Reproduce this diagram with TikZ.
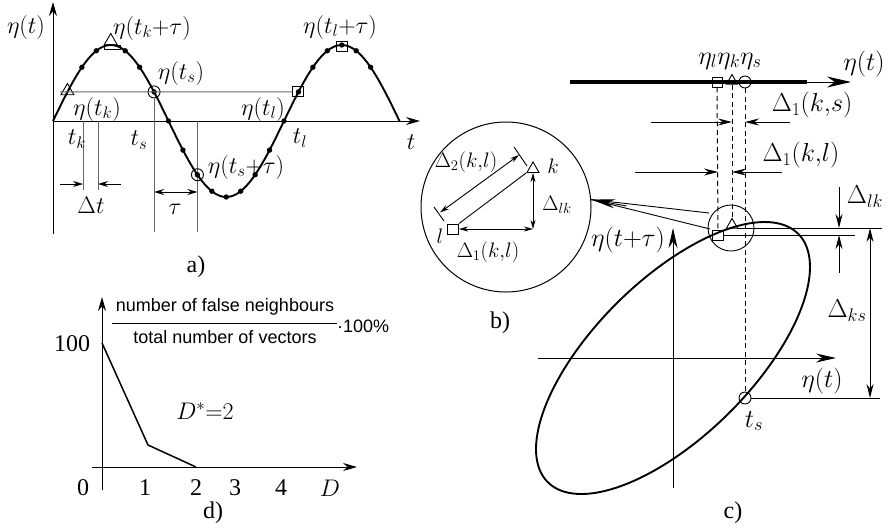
\RequirePackage{fix-cm}
\documentclass[tikz,border=0pt]{standalone}
\usepackage{fontspec}
\setmainfont{Liberation Serif}
\newfontfamily\arialf{Liberation Sans}
\usetikzlibrary{arrows.meta,calc,shapes.geometric}
\begin{document}
\begin{tikzpicture}[x=1pt,y=-1pt,
  la/.style={font=\fontsize{24}{26}\selectfont, inner sep=0pt},
  lb/.style={font=\fontsize{21}{23}\selectfont, inner sep=0pt},
  lc/.style={font=\fontsize{26}{28}\selectfont, inner sep=0pt},
  ld/.style={font=\fontsize{24}{26}\selectfont, inner sep=0pt},
  ls/.style={font=\arialf\fontsize{18}{20}\selectfont, inner sep=0pt},
  ln/.style={line width=0.9pt},
  gln/.style={line width=0.9pt, draw=black!60},
  crv/.style={line width=1.9pt},
  axa/.style={line width=1pt, -{Stealth[length=14pt,width=8pt]}},
  axc/.style={line width=1pt, -{Stealth[length=20pt,width=9pt]}},
  dima/.style={line width=0.9pt, -{Stealth[length=10pt,width=6pt]}},
  dimb/.style={line width=0.9pt, {Stealth[length=9pt,width=5pt]}-{Stealth[length=9pt,width=5pt]}},
  dimc/.style={line width=1pt, -{Stealth[length=14pt,width=7pt]}},
  dsh/.style={line width=1pt, dash pattern=on 5pt off 3.5pt},
  sqm/.style={draw, rectangle, minimum width=11pt, minimum height=10pt, inner sep=0pt, line width=0.9pt},
  trm/.style={draw, regular polygon, regular polygon sides=3, minimum size=15pt, inner sep=0pt, line width=0.9pt},
  cim/.style={draw, circle, minimum size=12pt, inner sep=0pt, line width=0.9pt},
]
\useasboundingbox (0,0) rectangle (891,528);

% ================= panel a =================
\coordinate (aO) at (53,121);
\coordinate (aYb) at (53,234);
\coordinate (aYt) at (53,2);
\coordinate (aXt) at (420,121);
\draw[axa] (aYb) -- (aYt);
\draw[axa] (aO) -- (aXt);

% gray guide lines
\coordinate (hl0) at (60,91.9);
\coordinate (dt1t) at (83,121);
\coordinate (dt1b) at (83,190);
\coordinate (dt2t) at (98,121);
\coordinate (dt2b) at (98,190);
\coordinate (tsb) at (154.06,232);
\coordinate (tstb) at (197.44,232);
\coordinate (tstt) at (197.44,121);
\draw[gln] (dt1t) -- (dt1b);
\draw[gln] (dt2t) -- (dt2b);
\draw[gln] (tstt) -- (tstb);

% sine curve
\draw[crv] plot[domain=53:399.5, samples=120] (\x, {121-76*sin((\x-53)/115.5*180)});
\foreach \n in {2,3,5,6,7,8,9,10,11,12,13,14,15,16,17,18,19,20,21,22}
  \fill ({53+\n*14.4375},{121-76*sin(\n*22.5)}) circle (2.7pt);

% markers
\node[trm] (ak) at (67.44,91.0) {};
\node[trm] (akt) at (110.75,41) {};
\node[draw, rectangle, minimum width=16pt, minimum height=4pt, inner sep=0pt, line width=0.9pt] (aktr) at (112,47.5) {};
\node[cim] (as) at (154.06,91.92) {};
\node[cim] (ast) at (197.44,174.74) {};
\node[sqm] (al) at (298.44,91.92) {};
\node[sqm] (alt) at (341.75,46) {};
\draw[gln] (hl0) -- (al.west);
\draw[gln] (as.south) -- (tsb);

% dimension arrows
\coordinate (dta) at (60,184);
\coordinate (dtb) at (83,184);
\coordinate (dtc) at (121,184);
\coordinate (dtd) at (98,184);
\draw[dima] (dta) -- (dtb);
\draw[dima] (dtc) -- (dtd);
\coordinate (taua) at (154.06,192);
\coordinate (taub) at (197.44,192);
\draw[line width=0.9pt, {Stealth[length=10pt,width=6pt]}-{Stealth[length=10pt,width=6pt]}] (taua) -- (taub);

% labels a
\node[la] (aLeta) at (26,27) {$\eta(t)$};
\node[la] (aLt) at (411,142) {$t$};
\node[la] (aLkt) at (152,28) {$\eta(t_k{+}\tau)$};
\node[la] (aLlt) at (340,27) {$\eta(t_l{+}\tau)$};
\node[la] (aLs) at (181,73) {$\eta(t_s)$};
\node[la] (aLk) at (97,109) {$\eta(t_k)$};
\node[la] (aLl) at (263,109) {$\eta(t_l)$};
\node[la] (aLst) at (246,167) {$\eta(t_s{+}\tau)$};
\node[la] (aLtk) at (77,139) {$t_k$};
\node[la] (aLts) at (139,140) {$t_s$};
\node[la] (aLtl) at (300,138) {$t_l$};
\node[la] (aLdt) at (91,205) {$\Delta t$};
\node[la] (aLtau) at (175,209) {$\tau$};
\node[la] (aCap) at (196,267) {a)};

% ================= panel d =================
\coordinate (dYb) at (102,490);
\coordinate (dYt) at (102,297);
\coordinate (dXl) at (92,467);
\coordinate (dXr) at (357,467);
\draw[axa] (dYb) -- (dYt);
\draw[axa] (dXl) -- (dXr);
\coordinate (dp0) at (102,343);
\coordinate (dp1) at (148,445);
\coordinate (dp2) at (196,467);
\draw[line width=1.5pt] (dp0) -- (dp1) -- (dp2);
\node[ld] (d100) at (72,344) {100};
\node[ld] (d0) at (83,488) {0};
\node[ld] (d1) at (145,488) {1};
\node[ld] (d2) at (196,488) {2};
\node[ld] (d3) at (235,488) {3};
\node[ld] (d4) at (281,488) {4};
\node[ld] (dD) at (330,488) {$D$};
\node[ld] (dDs) at (205,411) {$D^{*}{=}2$};
\node[ls] (dnum) at (225,307) {number of false neighbours};
\node[ls] (dden) at (225,337) {total number of vectors};
\coordinate (fl1) at (112,323);
\coordinate (fl2) at (337,323);
\draw[line width=0.9pt] (fl1) -- (fl2);
\node[ls, anchor=west] (dpct) at (337,326) {·100\%};
\node[la] (dCap) at (213,513) {d)};

% ================= panel b =================
\node[draw, circle, minimum size=170pt, inner sep=0pt, line width=1pt] (bc) at (506,207) {};
\node[sqm] (bl) at (453,229) {};
\node[trm, minimum size=14pt] (bk) at (533,169) {};
\coordinate (bcor) at (533,229);
\draw[dimb] (bl.east) -- (bcor);
\draw[dimb] (bcor) -- (bk.south);
\draw[ln] (bl.north east) -- (bk.corner 2);
\coordinate (e1a) at (434,207);
\coordinate (e1b) at (444,221);
\coordinate (e2a) at (514,147);
\coordinate (e2b) at (527,166);
\draw[ln] (e1a) -- (e1b);
\draw[ln] (e2a) -- (e2b);
\coordinate (d2a) at (440,212.5);
\coordinate (d2b) at (519,155);
\draw[dimb] (d2a) -- (d2b);
\node[lb] (bL2) at (466,162) {$\Delta_2(k{,}l)$};
\node[lb] (bLk) at (553,166) {$k$};
\node[lb] (bLlk) at (557,205) {$\Delta_{lk}$};
\node[lb] (bLl) at (440,236) {$l$};
\node[lb] (bL1) at (488,252) {$\Delta_1(k{,}l)$};
\node[la] (bCap) at (500,323) {b)};

% ================= panel c =================
% ellipse
\draw[crv] plot[domain=0:360, samples=150] ({673+137*cos(\x)}, {358-136*cos(\x-48)}) -- cycle;
% axes
\coordinate (cYb) at (673,488);
\coordinate (cYt) at (673,228);
\coordinate (cXl) at (538,358);
\coordinate (cXr) at (836,358);
\draw[axc] (cYb) -- (cYt);
\draw[axc] (cXl) -- (cXr);
% top line
\coordinate (cL) at (570,82);
\coordinate (cM) at (807,82);
\coordinate (cR) at (851,82);
\draw[line width=3.6pt] (cL) -- (cM);
\draw[line width=1pt, -{Stealth[length=24pt,width=11pt]}] (cM) -- (cR);
\node[sqm, minimum width=10pt] (cl) at (717,82) {};
\node[trm, minimum size=13pt] (ck) at (732,81) {};
\node[cim, minimum size=12pt] (cs) at (745,82) {};
% zoom circle and points
\node[draw, circle, minimum size=46pt, inner sep=0pt, line width=0.9pt] (zc) at (731,228) {};
\node[sqm] (zl) at (718,235) {};
\node[trm, minimum size=13pt] (zk) at (732,225) {};
\node[cim] (zs) at (745,398) {};
% dashed projections
\draw[dsh] (cl.south) -- (zl.north);
\draw[dsh] (ck.south) -- (zk.north);
\draw[dsh] (cs.south) -- (zs.north);
% Delta_1(k,s)
\coordinate (ks1) at (651,122);
\coordinate (ks2) at (732,122);
\coordinate (ks3) at (790,122);
\coordinate (ks4) at (745,122);
\draw[dimc] (ks1) -- (ks2);
\draw[dimc] (ks3) -- (ks4);
% Delta_1(k,l)
\coordinate (kl1) at (635,172);
\coordinate (kl2) at (718,172);
\coordinate (kl3) at (782,172);
\coordinate (kl4) at (732,172);
\draw[dimc] (kl1) -- (kl2);
\draw[dimc] (kl3) -- (kl4);
% horizontal reference lines
\coordinate (hk0) at (737,228);
\coordinate (hk1) at (882,228);
\coordinate (hl1) at (855,235);
\coordinate (hs1) at (880,398);
\draw[ln] (hk0) -- (hk1);
\draw[ln] (zl.east) -- (hl1);
\draw[ln] (zs.east) -- (hs1);
% Delta_lk arrows
\coordinate (lk1) at (839,187);
\coordinate (lk2) at (839,228);
\coordinate (lk3) at (839,273);
\coordinate (lk4) at (839,235);
\draw[dimc] (lk1) -- (lk2);
\draw[dimc] (lk3) -- (lk4);
% Delta_ks
\coordinate (ksa) at (870,228);
\coordinate (ksb) at (870,398);
\draw[line width=1pt, {Stealth[length=14pt,width=7pt]}-{Stealth[length=14pt,width=7pt]}] (ksa) -- (ksb);
% big arrow to circle b
\coordinate (bp1) at (709,213);
\coordinate (bp2) at (710,229);
\coordinate (btip) at (bc.5);
\draw[ln] (bp1) -- (btip);
\draw[ln] (bp2) -- (btip);
\coordinate (bmid) at ($(bp1)!0.5!(bp2)$);
\draw[line width=0.9pt, -{Stealth[length=24pt,width=9pt]}] ($(btip)!0.3!(bmid)$) -- (btip);
% labels c
\node[lc] (cLeta) at (864,64) {$\eta(t)$};
\node[lc] (cLeta2) at (730,61) {$\eta_l\eta_k\eta_s$};
\node[lc] (cLks) at (812,105) {$\Delta_1(k{,}s)$};
\node[lc] (cLkl) at (801,155) {$\Delta_1(k{,}l)$};
\node[lc] (cLlk) at (865,197) {$\Delta_{lk}$};
\node[lc] (cLks2) at (847,311) {$\Delta_{ks}$};
\node[lc] (cLyt) at (628,240) {$\eta(t{+}\tau)$};
\node[lc] (cLxt) at (822,381) {$\eta(t)$};
\node[lc] (cLts) at (754,421) {$t_s$};
\node[la] (cCap) at (733,513) {c)};
\end{tikzpicture}
\end{document}
